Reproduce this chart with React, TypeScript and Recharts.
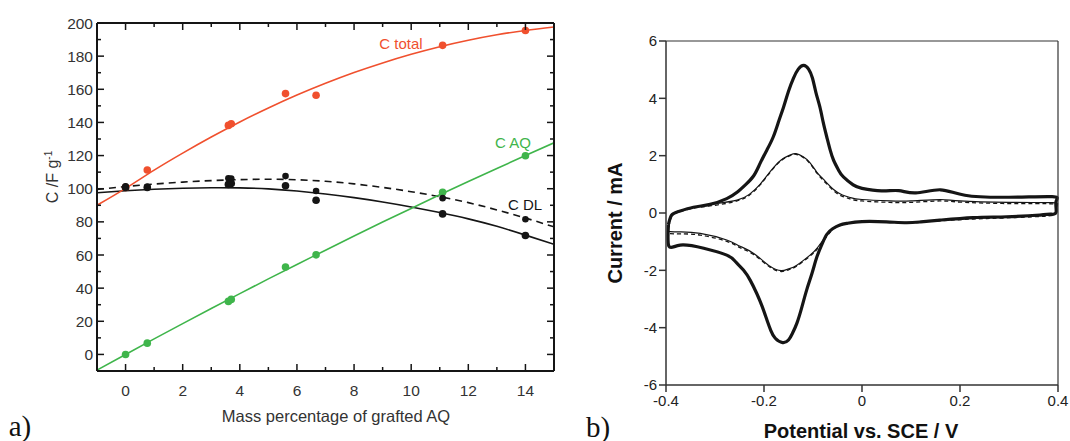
import { ComposedChart, Line, Scatter, XAxis, YAxis } from "recharts";

const FONT = "'Liberation Sans', Arial, Helvetica, sans-serif";
const RED = "#f0502e";
const GREEN = "#3fb54b";
const INK = "#151515";

// ---- panel a) ----
// fitted curves at whole mass percentages
const fitMass = [-1, 0, 1, 2, 3, 4, 5, 6, 7, 8, 9, 10, 11, 12, 13, 14, 15];
const totalFit = [90, 100.2, 111.2, 121.5, 131.2, 140.3, 148.7, 156.5, 163.6, 170.1, 175.9, 181.1, 185.7, 189.6, 192.9, 195.5, 197.6];
const aqFit = [-9.5, 0, 9.4, 18.6, 27.7, 36.7, 45.6, 54.3, 62.9, 71.5, 79.9, 88.1, 96.3, 104.3, 112.2, 120, 127.7];
const dlFit = [97.6, 98.8, 99.7, 100.3, 100.6, 100.5, 99.9, 98.6, 96.8, 94.6, 92.0, 89.0, 85.6, 81.8, 77.3, 72.0, 66.5];
const dlDashFit = [99.6, 101.3, 102.8, 104.0, 104.9, 105.5, 105.7, 105.4, 104.5, 102.9, 100.8, 98.2, 95.2, 91.6, 87.2, 82.3, 77.0];

// measured points
const sampleMass = [0, 0.76, 3.6, 3.7, 5.6, 6.67, 11.1, 14];
const totalMeasured = [100.8, 111.3, 138.2, 139.2, 157.4, 156.4, 186.5, 195.5];
const aqMeasured = [0, 6.8, 32, 33.2, 52.8, 60.1, 97.8, 119.9];
const dlMeasured = [100.8, 100.8, 102.6, 103.2, 101.8, 93.0, 84.8, 71.8];
const dlUpperMeasured = [101.4, 101.2, 106.3, 106.2, 107.6, 98.6, 94.3, 81.6];

const massTicks = [0, 1, 2, 3, 4, 5, 6, 7, 8, 9, 10, 11, 12, 13, 14];
const capTicks = [0, 10, 20, 30, 40, 50, 60, 70, 80, 90, 100, 110, 120, 130, 140, 150, 160, 170, 180, 190, 200];

// ---- panel b) ---- cyclic voltammograms, [E / V, I / mA] around the loop
const cvThick: [number, number][] = [
  [-0.395, -0.4], [-0.389, -0.08], [-0.375, 0.05], [-0.344, 0.2], [-0.31, 0.3], [-0.276, 0.5],
  [-0.255, 0.72], [-0.238, 0.98], [-0.221, 1.3], [-0.208, 1.73], [-0.194, 2.2], [-0.181, 2.66],
  [-0.17, 3.2], [-0.16, 3.7], [-0.15, 4.25], [-0.14, 4.7], [-0.13, 5.02], [-0.119, 5.15],
  [-0.109, 5.02], [-0.101, 4.7], [-0.094, 4.2], [-0.086, 3.7], [-0.079, 3.15], [-0.072, 2.66],
  [-0.065, 2.2], [-0.058, 1.84], [-0.048, 1.5], [-0.038, 1.26], [-0.018, 0.98], [0.0, 0.86],
  [0.04, 0.77], [0.075, 0.78], [0.11, 0.7], [0.16, 0.81], [0.21, 0.62], [0.3, 0.55],
  [0.388, 0.57], [0.396, 0.4], [0.396, 0.02], [0.385, -0.04],
  [0.363, -0.07], [0.295, -0.13], [0.227, -0.16], [0.159, -0.25], [0.12, -0.31], [0.091, -0.34],
  [0.05, -0.31], [0.0, -0.3], [-0.03, -0.36], [-0.045, -0.42], [-0.06, -0.55], [-0.072, -0.75],
  [-0.082, -1.1], [-0.092, -1.53], [-0.102, -2.1], [-0.113, -2.69], [-0.123, -3.3],
  [-0.133, -3.85], [-0.142, -4.2], [-0.15, -4.43], [-0.162, -4.52], [-0.177, -4.37],
  [-0.186, -4.1], [-0.194, -3.73], [-0.204, -3.25], [-0.215, -2.8], [-0.228, -2.35],
  [-0.242, -1.99], [-0.258, -1.7], [-0.276, -1.47], [-0.323, -1.23], [-0.371, -1.12],
  [-0.394, -1.16], [-0.395, -0.4],
];

const cvThin: [number, number][] = [
  [-0.396, -0.62], [-0.392, -0.25], [-0.385, -0.02], [-0.37, 0.08], [-0.344, 0.2], [-0.3, 0.32],
  [-0.255, 0.45], [-0.23, 0.65], [-0.208, 1.0], [-0.187, 1.45], [-0.165, 1.85], [-0.147, 2.02],
  [-0.135, 2.07], [-0.12, 1.96], [-0.106, 1.75], [-0.092, 1.42], [-0.079, 1.18], [-0.058, 0.82],
  [-0.04, 0.63], [-0.024, 0.54], [0.0, 0.47], [0.057, 0.42], [0.1, 0.42], [0.159, 0.47],
  [0.2, 0.42], [0.3, 0.37], [0.388, 0.36], [0.398, 0.25], [0.396, -0.02], [0.38, -0.08],
  [0.363, -0.1], [0.295, -0.15], [0.227, -0.19], [0.159, -0.26], [0.12, -0.31], [0.091, -0.33],
  [0.05, -0.31], [0.0, -0.31], [-0.03, -0.36], [-0.045, -0.42], [-0.058, -0.52], [-0.072, -0.78],
  [-0.092, -1.23], [-0.106, -1.47], [-0.133, -1.82], [-0.15, -1.95], [-0.164, -2.01],
  [-0.187, -1.87], [-0.221, -1.41], [-0.25, -1.15], [-0.276, -0.94], [-0.33, -0.71],
  [-0.37, -0.66], [-0.391, -0.65], [-0.396, -0.62],
];

const cvDashed: [number, number][] = [
  [-0.396, -0.72], [-0.392, -0.3], [-0.385, -0.05], [-0.37, 0.05], [-0.344, 0.17], [-0.3, 0.27],
  [-0.255, 0.42], [-0.23, 0.62], [-0.208, 0.98], [-0.187, 1.43], [-0.165, 1.83], [-0.147, 2.0],
  [-0.135, 2.05], [-0.12, 1.94], [-0.106, 1.72], [-0.092, 1.39], [-0.079, 1.14], [-0.058, 0.78],
  [-0.04, 0.58], [-0.024, 0.49], [0.0, 0.42], [0.057, 0.37], [0.1, 0.37], [0.159, 0.42],
  [0.2, 0.38], [0.3, 0.33], [0.388, 0.32], [0.397, 0.2], [0.395, -0.04], [0.38, -0.1],
  [0.363, -0.12], [0.295, -0.17], [0.227, -0.21], [0.159, -0.27], [0.12, -0.32], [0.091, -0.34],
  [0.05, -0.32], [0.0, -0.32], [-0.03, -0.37], [-0.045, -0.44], [-0.058, -0.55], [-0.072, -0.82],
  [-0.092, -1.27], [-0.106, -1.5], [-0.133, -1.85], [-0.15, -1.98], [-0.164, -2.04],
  [-0.187, -1.9], [-0.221, -1.45], [-0.25, -1.2], [-0.276, -0.99], [-0.33, -0.77],
  [-0.37, -0.73], [-0.391, -0.72], [-0.396, -0.72],
];

const potentialTicks = [-0.4, -0.2, 0, 0.2, 0.4];
const currentTicks = [-6, -4, -2, 0, 2, 4, 6];

const toXY = (xs: number[], ys: number[]) => xs.map((x, i) => ({ x, y: ys[i] }));
const toCv = (pts: [number, number][]) => pts.map(([e, i]) => ({ e, i }));

type Side = "bottom" | "top" | "left" | "right";

// inward ticks drawn on the frame, long on majors and short on minors
const frameTick = (side: Side, major: number, withLabel: boolean) => (props: any) => {
  const { x, y, payload } = props;
  const v = payload.value as number;
  const isMajor = Math.abs(v / major - Math.round(v / major)) < 1e-6;
  const len = isMajor ? 7 : 4;
  let x2 = x;
  let y2 = y;
  if (side === "bottom") y2 = y - len;
  if (side === "top") y2 = y + len;
  if (side === "left") x2 = x + len;
  if (side === "right") x2 = x - len;
  return (
    <g>
      <line x1={x} y1={y} x2={x2} y2={y2} stroke={INK} strokeWidth={1.5} />
      {withLabel && isMajor && side === "bottom" && (
        <text x={x} y={y + 19.5} textAnchor="middle" dominantBaseline="central" fontSize={15.5} fill="#333" fontFamily={FONT}>
          {v}
        </text>
      )}
      {withLabel && isMajor && side === "left" && (
        <text x={x - 4} y={y} textAnchor="end" dominantBaseline="central" fontSize={15.5} fill="#333" fontFamily={FONT}>
          {v}
        </text>
      )}
    </g>
  );
};

const dot = (color: string, r: number) => (p: any) => <circle cx={p.cx} cy={p.cy} r={r} fill={color} />;

const note = (left: number, top: number, color: string, size: number, extra: React.CSSProperties = {}) => ({
  position: "absolute" as const,
  left,
  top,
  transform: "translate(-50%, -50%)",
  color,
  fontSize: size,
  fontFamily: FONT,
  whiteSpace: "nowrap" as const,
  lineHeight: 1,
  ...extra,
});

const PanelA = () => (
  <ComposedChart width={570} height={441} margin={{ top: 22, right: 15, bottom: 69, left: 96 }}>
    <XAxis xAxisId="b" dataKey="x" type="number" domain={[-1, 15]} ticks={massTicks} interval={0}
      tickSize={0} tickMargin={0} height={1} tickLine={false} axisLine={{ stroke: INK, strokeWidth: 2 }}
      tick={frameTick("bottom", 2, true)} allowDataOverflow />
    <XAxis xAxisId="t" orientation="top" dataKey="x" type="number" domain={[-1, 15]} ticks={massTicks} interval={0}
      tickSize={0} tickMargin={0} height={1} tickLine={false} axisLine={{ stroke: INK, strokeWidth: 2 }}
      tick={frameTick("top", 2, false)} allowDataOverflow />
    <YAxis yAxisId="l" type="number" domain={[-10, 200]} ticks={capTicks} interval={0}
      tickSize={0} tickMargin={0} width={1} tickLine={false} axisLine={{ stroke: INK, strokeWidth: 2 }}
      tick={frameTick("left", 20, true)} allowDataOverflow />
    <YAxis yAxisId="r" orientation="right" type="number" domain={[-10, 200]} ticks={capTicks} interval={0}
      tickSize={0} tickMargin={0} width={1} tickLine={false} axisLine={{ stroke: INK, strokeWidth: 2 }}
      tick={frameTick("right", 20, false)} allowDataOverflow />

    <Line xAxisId="b" yAxisId="l" data={toXY(fitMass, dlDashFit)} dataKey="y" type="natural" stroke={INK}
      strokeWidth={1.6} strokeDasharray="7 5" dot={false} isAnimationActive={false} />
    <Line xAxisId="b" yAxisId="l" data={toXY(fitMass, dlFit)} dataKey="y" type="natural" stroke={INK}
      strokeWidth={1.6} dot={false} isAnimationActive={false} />
    <Line xAxisId="b" yAxisId="l" data={toXY(fitMass, aqFit)} dataKey="y" type="natural" stroke={GREEN}
      strokeWidth={1.6} dot={false} isAnimationActive={false} />
    <Line xAxisId="b" yAxisId="l" data={toXY(fitMass, totalFit)} dataKey="y" type="natural" stroke={RED}
      strokeWidth={1.6} dot={false} isAnimationActive={false} />

    <Scatter xAxisId="b" yAxisId="l" data={toXY(sampleMass, totalMeasured)} dataKey="y" shape={dot(RED, 3.8)} isAnimationActive={false} />
    <Scatter xAxisId="b" yAxisId="l" data={toXY(sampleMass, aqMeasured)} dataKey="y" shape={dot(GREEN, 3.8)} isAnimationActive={false} />
    <Scatter xAxisId="b" yAxisId="l" data={toXY(sampleMass, dlUpperMeasured)} dataKey="y" shape={dot(INK, 3.3)} isAnimationActive={false} />
    <Scatter xAxisId="b" yAxisId="l" data={toXY(sampleMass, dlMeasured)} dataKey="y" shape={dot(INK, 3.8)} isAnimationActive={false} />
  </ComposedChart>
);

const PanelB = () => (
  <ComposedChart width={500} height={441} margin={{ top: 40, right: 11, bottom: 55, left: 95 }}>
    <XAxis xAxisId="b" dataKey="e" type="number" domain={[-0.4, 0.4]} ticks={potentialTicks} interval={0}
      height={1} tickSize={7} tickMargin={3} axisLine={{ stroke: "#333", strokeWidth: 1.5 }}
      tickLine={{ stroke: "#333", strokeWidth: 1.5 }} tick={{ fontSize: 15, fill: "#222", fontFamily: FONT }} />
    <XAxis xAxisId="t" orientation="top" dataKey="e" type="number" domain={[-0.4, 0.4]} ticks={potentialTicks}
      height={1} tick={false} tickLine={false} axisLine={{ stroke: "#333", strokeWidth: 1.2 }} />
    <YAxis yAxisId="l" type="number" domain={[-6, 6]} ticks={currentTicks} interval={0}
      width={1} tickSize={7} tickMargin={2} axisLine={{ stroke: "#333", strokeWidth: 1.5 }}
      tickLine={{ stroke: "#333", strokeWidth: 1.5 }} tick={{ fontSize: 15, fill: "#222", fontFamily: FONT }} />
    <YAxis yAxisId="r" orientation="right" type="number" domain={[-6, 6]} ticks={currentTicks}
      width={1} tick={false} tickLine={false} axisLine={{ stroke: "#333", strokeWidth: 1.2 }} />

    <Line xAxisId="b" yAxisId="l" data={toCv(cvThin)} dataKey="i" type="natural" stroke={INK}
      strokeWidth={1.2} dot={false} isAnimationActive={false} />
    <Line xAxisId="b" yAxisId="l" data={toCv(cvDashed)} dataKey="i" type="natural" stroke={INK}
      strokeWidth={1.3} strokeDasharray="4 3" dot={false} isAnimationActive={false} />
    <Line xAxisId="b" yAxisId="l" data={toCv(cvThick)} dataKey="i" type="natural" stroke={INK}
      strokeWidth={3.2} dot={false} isAnimationActive={false} />
  </ComposedChart>
);

export default function App() {
  return (
    <div style={{ position: "absolute", left: 0, top: 0, width: 1070, height: 441, background: "#fff", overflow: "hidden" }}>
      <div style={{ position: "absolute", left: 0, top: 0 }}>
        <PanelA />
      </div>
      <div style={{ position: "absolute", left: 570, top: 0 }}>
        <PanelB />
      </div>

      {/* panel a) text */}
      <div style={note(401, 43, RED, 15)}>C total</div>
      <div style={note(513, 142, GREEN, 15)}>C AQ</div>
      <div style={note(525, 204, INK, 15)}>C DL</div>
      <div style={note(52, 177, "#333", 16, { transform: "translate(-50%, -50%) rotate(-90deg)" })}>
        C /F g<sup style={{ fontSize: 10, verticalAlign: "6px" }}>-1</sup>
      </div>
      <div style={note(336, 416, "#333", 16.5)}>Mass percentage of grafted AQ</div>
      <div style={note(20, 426, "#111", 29, { fontFamily: "'Liberation Serif', 'Times New Roman', serif" })}>a)</div>

      {/* panel b) text */}
      <div style={note(615, 223, "#111", 20, { fontWeight: 700, transform: "translate(-50%, -50%) rotate(-90deg)" })}>
        Current / mA
      </div>
      <div style={note(861, 431, "#111", 20, { fontWeight: 700 })}>Potential vs. SCE / V</div>
      <div style={note(598, 427, "#111", 29, { fontFamily: "'Liberation Serif', 'Times New Roman', serif" })}>b)</div>
    </div>
  );
}
